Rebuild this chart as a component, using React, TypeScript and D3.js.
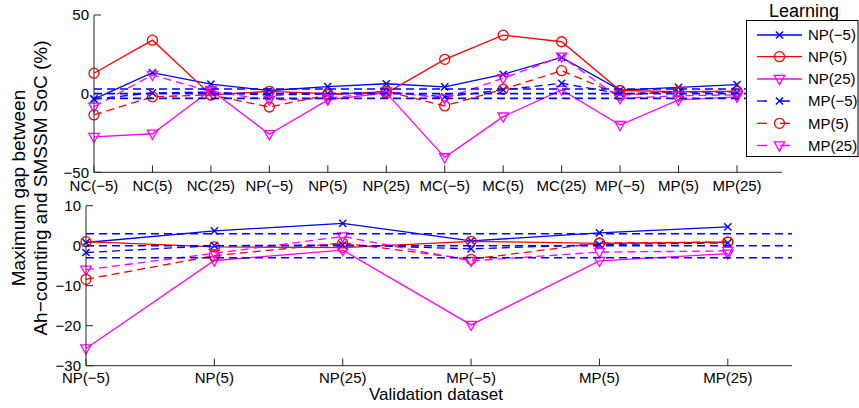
import React from "react";
import * as d3 from "d3";

const topCategories = ["NC(−5)", "NC(5)", "NC(25)", "NP(−5)", "NP(5)", "NP(25)", "MC(−5)", "MC(5)", "MC(25)", "MP(−5)", "MP(5)", "MP(25)"];
const bottomCategories = ["NP(−5)", "NP(5)", "NP(25)", "MP(−5)", "MP(5)", "MP(25)"];
const seriesNames = ["NP(−5)", "NP(5)", "NP(25)", "MP(−5)", "MP(5)", "MP(25)"];

const topNPm5 = [-3.5, 13.4, 6, 2, 4.5, 6.3, 4.3, 12.3, 23, 2.2, 4, 5.7];
const topNP5 = [13, 34, -0.8, 1.5, 0, 0.3, 21.8, 37.2, 33, 2, 1.3, 1.5];
const topNP25 = [-27.5, -25.5, 2.3, -25.8, -4, 0.5, -40.5, -14.6, 2.4, -20, -4, -2];
const topMPm5 = [-3.5, 0.5, 1, -1, 0, 1, -2, 2.4, 6.6, 0, 1, 1];
const topMP5 = [-13.5, -2, -0.8, -8.5, -0.8, 1.5, -7.8, 2.8, 14.6, -1, 1.3, 1.5];
const topMP25 = [-8.3, 11.9, 1.3, -4, -3, 1.3, -3, 9.8, 23.5, -3, -1.3, -0.8];

const botNPm5 = [0.8, 3.7, 5.6, 1.2, 3.2, 4.7];
const botNP5 = [1, -0.3, -0.5, 1.1, 0.6, 0.9];
const botNP25 = [-25.7, -3.7, -1.1, -19.8, -3.8, -2];
const botMPm5 = [-1.7, 0, 0.2, -0.8, 0.3, 0.7];
const botMP5 = [-8.4, -2.5, 0.7, -3.4, 0.7, 0.9];
const botMP25 = [-6, -1.9, 2.3, -3.8, -1.6, -1.3];

const refLines = [3, 0, -3];
const topYTicks = [-50, 0, 50];
const botYTicks = [-30, -20, -10, 0, 10];

const colors = ["#0000ff", "#ff0000", "#ff00ff", "#0000ff", "#ff0000", "#ff00ff"];
const dashed = [false, false, false, true, true, true];
const markers = ["x", "o", "v", "x", "o", "v"];

const topData = [topNPm5, topNP5, topNP25, topMPm5, topMP5, topMP25];
const botData = [botNPm5, botNP5, botNP25, botMPm5, botMP5, botMP25];

const FONT = "'Liberation Sans', Arial, Helvetica, sans-serif";
const AX = "#262626";
const DASH = "8,5";

function Marker({ type, x, y, color }: { type: string; x: number; y: number; color: string }) {
  if (type === "x") {
    const s = 3.6;
    return (
      <path d={`M${x - s},${y - s}L${x + s},${y + s}M${x - s},${y + s}L${x + s},${y - s}`} stroke={color} strokeWidth={1.4} fill="none" />
    );
  }
  if (type === "o") {
    return <circle cx={x} cy={y} r={5} stroke={color} strokeWidth={1.3} fill="none" />;
  }
  return (
    <path d={`M${x - 5.2},${y - 3.6}L${x + 5.2},${y - 3.6}L${x},${y + 5.6}Z`} stroke={color} strokeWidth={1.3} fill="none" />
  );
}

function fmt(v: number) {
  return v < 0 ? "−" + Math.abs(v) : String(v);
}

function Panel({
  cats, data, x, y, yTicks, labelY,
}: {
  cats: string[]; data: number[][]; x: d3.ScaleLinear<number, number>; y: d3.ScaleLinear<number, number>; yTicks: number[]; labelY: number;
}) {
  const [x0, x1] = x.range();
  const [yb, yt] = y.range();
  const line = d3.line<number>().x((_, i) => x(i)).y((v) => y(v));
  return (
    <g>
      {data.map((vals, s) => (
        <g key={s}>
          <path d={line(vals) || ""} fill="none" stroke={colors[s]} strokeWidth={1.3} strokeDasharray={dashed[s] ? DASH : undefined} />
          {vals.map((v, i) => (
            <Marker key={i} type={markers[s]} x={x(i)} y={y(v)} color={colors[s]} />
          ))}
        </g>
      ))}
      {refLines.map((r) => (
        <line key={r} x1={x0} x2={x1} y1={y(r)} y2={y(r)} stroke="#0000ff" strokeWidth={1.6} strokeDasharray={DASH} />
      ))}
      <line x1={x0} x2={x1} y1={yb} y2={yb} stroke={AX} strokeWidth={1} />
      <line x1={x0} x2={x0} y1={yb} y2={yt} stroke={AX} strokeWidth={1} />
      {cats.map((c, i) => (
        <g key={c + i}>
          <line x1={x(i)} x2={x(i)} y1={yb} y2={yb - 7} stroke={AX} strokeWidth={1} />
          <text x={x(i)} y={labelY} textAnchor="middle" fontSize={15} fontFamily={FONT} fill="#000">{c}</text>
        </g>
      ))}
      {yTicks.map((t) => (
        <g key={t}>
          <line x1={x0} x2={x0 + 7} y1={y(t)} y2={y(t)} stroke={AX} strokeWidth={1} />
          <text x={x0 - 5} y={y(t)} dy="0.35em" textAnchor="end" fontSize={15} fontFamily={FONT} fill="#000">{fmt(t)}</text>
        </g>
      ))}
    </g>
  );
}

export default function App() {
  const W = 859, H = 408;
  const xTop = d3.scaleLinear().domain([0, 11.77]).range([94, 782]);
  const yTop = d3.scaleLinear().domain([-50, 50]).range([172.3, 15]);
  const xBot = d3.scaleLinear().domain([0, 5.5]).range([86, 792]);
  const yBot = d3.scaleLinear().domain([-30, 10]).range([365.7, 205.7]);

  const legY = [35, 56.7, 79, 101, 123.3, 145.5];

  return (
    <svg width={W} height={H} style={{ position: "absolute", left: 0, top: 0, background: "#fff" }}>
      <rect x={0} y={0} width={W} height={H} fill="#fff" />
      <Panel cats={topCategories} data={topData} x={xTop} y={yTop} yTicks={topYTicks} labelY={191} />
      <Panel cats={bottomCategories} data={botData} x={xBot} y={yBot} yTicks={botYTicks} labelY={383} />

      <text x={436} y={400} textAnchor="middle" fontSize={17} fontFamily={FONT} fill="#000">Validation dataset</text>
      <g transform="translate(25,188) rotate(-90)">
        <text x={0} y={0} textAnchor="middle" fontSize={19} fontFamily={FONT} fill="#000">Maximum gap between</text>
        <text x={0} y={21.5} textAnchor="middle" fontSize={19} fontFamily={FONT} fill="#000">Ah−counting and SMSSM SoC (%)</text>
      </g>

      <text x={804} y={17} textAnchor="middle" fontSize={18} fontFamily={FONT} fill="#000">Learning</text>
      <rect x={746.5} y={20.5} width={111.5} height={136} fill="#fff" stroke="#000" strokeWidth={1} />
      {seriesNames.map((n, i) => (
        <g key={n}>
          <line x1={757} x2={802} y1={legY[i]} y2={legY[i]} stroke={colors[i]} strokeWidth={1.3} strokeDasharray={dashed[i] ? "10,13" : undefined} />
          <Marker type={markers[i]} x={779.5} y={legY[i]} color={colors[i]} />
          <text x={808} y={legY[i]} dy="0.35em" fontSize={15} fontFamily={FONT} fill="#000">{n}</text>
        </g>
      ))}
    </svg>
  );
}
